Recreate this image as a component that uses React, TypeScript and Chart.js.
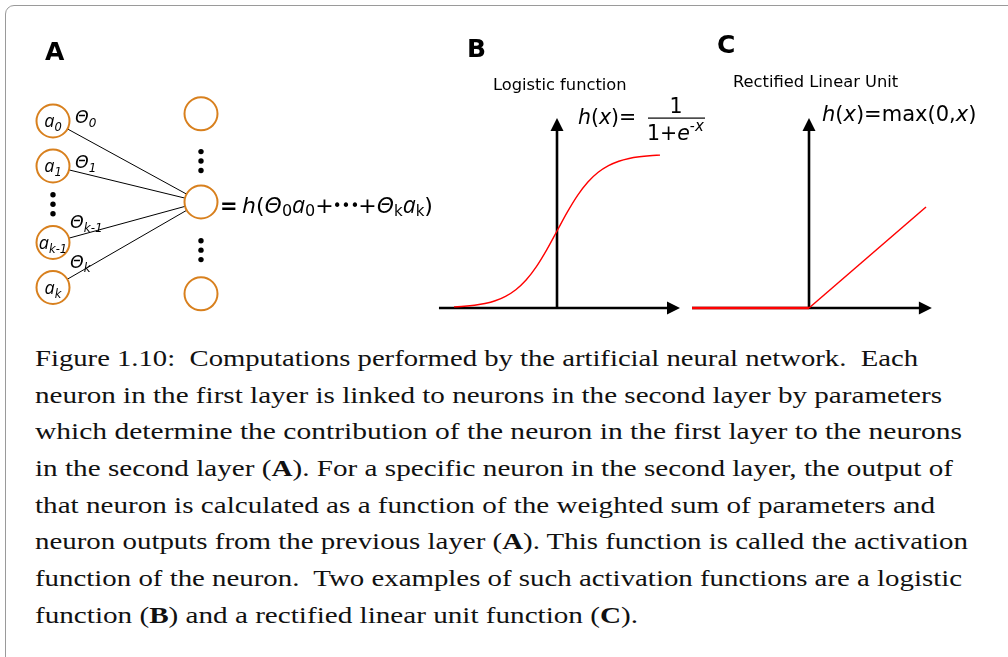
import React, { useEffect, useLayoutEffect, useRef } from "react";
import { Chart, registerables } from "chart.js";
Chart.register(...registerables);

// ---------------- data ----------------
// Panel A – network (x: layer index, y: slot position)
const inputSubscripts = ["0", "1", "k-1", "k"];
const thetaSubscripts = ["0", "1", "k-1", "k"];
const inputY = [0, 1, 2.7, 3.7];
const inputDotY = [1.64, 1.85, 2.06];
const outputY = [-0.16, 1.8, 3.84];
const outputDotY = [0.68, 0.89, 1.1, 2.66, 2.87, 3.08];
const linkedOutput = 1;

// Panel B – logistic curve
const logisticX = [-5, -4.5, -4, -3.5, -3, -2.5, -2, -1.5, -1, -0.5, 0, 0.5, 1, 1.5, 2, 2.5, 3, 3.5, 4, 4.5, 5];
const logisticY = [0.007, 0.011, 0.018, 0.029, 0.047, 0.076, 0.119, 0.182, 0.269, 0.378, 0.5, 0.622, 0.731, 0.818, 0.881, 0.924, 0.953, 0.971, 0.982, 0.989, 0.993];
const logisticAxisX = [-5.73, 5.97];
const logisticAxisTop = 1.234;

// Panel C – rectified linear unit
const reluX = [-1, 0, 1];
const reluY = [0, 0, 1];
const reluAxisX = [-1, 1.05];
const reluAxisTop = 1.88;

// Caption
const captionLines = [
  "Figure 1.10:  Computations performed by the artificial neural network.  Each",
  "neuron in the first layer is linked to neurons in the second layer by parameters",
  "which determine the contribution of the neuron in the first layer to the neurons",
  "in the second layer (**A**). For a specific neuron in the second layer, the output of",
  "that neuron is calculated as a function of the weighted sum of parameters and",
  "neuron outputs from the previous layer (**A**). This function is called the activation",
  "function of the neuron.  Two examples of such activation functions are a logistic",
  "function (**B**) and a rectified linear unit function (**C**).",
];

// ---------------- layout ----------------
const SANS = '"DejaVu Sans", Verdana, sans-serif';
const ITAL_A = '"Open Sans", "Noto Sans", "DejaVu Sans", sans-serif';
const SERIF = '"Liberation Serif", "Times New Roman", serif';
const ORANGE = "#d8801e";
const RED = "#ff0000";
const CAP_LEFT = 35;
const CAP_RIGHT = [918, 942, 962, 953, 935, 968, 962, 638];
const CAP_BASE0 = 367;
const CAP_STEP = 36.7;
const CAP_SIZE = 23;

type Box = { left: number; top: number; w: number; h: number; ox: number; oy: number; ux: number; uy: number };
const boxA: Box = { left: 0, top: 0, w: 460, h: 340, ox: 53, oy: 121, ux: 148, uy: 45 };
const boxB: Box = { left: 430, top: 20, w: 280, h: 310, ox: 557, oy: 308, ux: 20.6, uy: 154 };
const boxC: Box = { left: 680, top: 20, w: 320, h: 310, ox: 809, oy: 308, ux: 117, uy: 101 };

type Seg = { t: string; it?: boolean; b?: boolean; s: number; dy?: number; dx?: number; f?: string };
function drawRich(ctx: CanvasRenderingContext2D, x: number, y: number, segs: Seg[], measureOnly = false) {
  let cx = x;
  for (const g of segs) {
    ctx.font = `${g.it ? "italic " : ""}${g.b ? "bold " : ""}${g.s}px ${g.f || SANS}`;
    cx += g.dx || 0;
    if (!measureOnly) ctx.fillText(g.t, cx, y + (g.dy || 0));
    cx += ctx.measureText(g.t).width;
  }
  return cx - x;
}

function drawArrow(ctx: CanvasRenderingContext2D, x1: number, y1: number, x2: number, y2: number) {
  const ang = Math.atan2(y2 - y1, x2 - x1);
  const L = 13, Wd = 6.5;
  ctx.save();
  ctx.strokeStyle = "#000";
  ctx.fillStyle = "#000";
  ctx.lineWidth = 2.6;
  ctx.beginPath();
  ctx.moveTo(x1, y1);
  ctx.lineTo(x2 - (L - 2) * Math.cos(ang), y2 - (L - 2) * Math.sin(ang));
  ctx.stroke();
  const bx = x2 - L * Math.cos(ang), by = y2 - L * Math.sin(ang);
  ctx.beginPath();
  ctx.moveTo(x2, y2);
  ctx.lineTo(bx + Wd * Math.sin(ang), by - Wd * Math.cos(ang));
  ctx.lineTo(bx - Wd * Math.sin(ang), by + Wd * Math.cos(ang));
  ctx.closePath();
  ctx.fill();
  ctx.restore();
}

function scalesFor(b: Box, reverse: boolean) {
  const xmin = (b.left - b.ox) / b.ux;
  const xmax = (b.left + b.w - b.ox) / b.ux;
  let ymin, ymax;
  if (reverse) {
    ymin = (b.top - b.oy) / b.uy;
    ymax = (b.top + b.h - b.oy) / b.uy;
  } else {
    ymax = (b.oy - b.top) / b.uy;
    ymin = (b.oy - b.top - b.h) / b.uy;
  }
  return {
    x: { type: "linear", min: xmin, max: xmax, display: false },
    y: { type: "linear", min: ymin, max: ymax, display: false, reverse },
  };
}

function baseOptions(b: Box, reverse: boolean) {
  return {
    responsive: false,
    maintainAspectRatio: false,
    animation: false,
    events: [],
    layout: { padding: 0, autoPadding: false },
    plugins: { legend: { display: false }, tooltip: { enabled: false }, title: { display: false } },
    scales: scalesFor(b, reverse),
  };
}

// ---------- panel A ----------
function configA() {
  const px = (c: Chart, x: number, y: number) => [c.scales.x.getPixelForValue(x), c.scales.y.getPixelForValue(y)];
  const textPlugin = {
    id: "textA",
    afterDatasetsDraw(c: Chart) {
      const ctx = c.ctx;
      ctx.save();
      ctx.fillStyle = "#000";
      ctx.textBaseline = "alphabetic";
      ctx.font = `bold 25px ${SANS}`;
      ctx.fillText("A", 45 - boxA.left, 60 - boxA.top);
      // node labels
      inputY.forEach((y, i) => {
        const [cx, cy] = px(c, 0, y);
        const segs: Seg[] = [
          { t: "a", it: true, s: 18, f: ITAL_A },
          { t: inputSubscripts[i], it: true, s: 11.5, dy: 4 },
        ];
        const w = drawRich(ctx, 0, 0, segs, true);
        drawRich(ctx, cx - w / 2, cy + 6, segs);
        // theta labels
        const off = i < 2 ? [22, 2] : [17, -15 - (i - 2) * 5];
        drawRich(ctx, cx + off[0], cy + off[1], [
          { t: "Θ", it: true, s: 17.5 },
          { t: thetaSubscripts[i], it: true, s: 12, dy: 4 },
        ]);
      });
      // output formula
      const [mx, my] = px(c, 1, outputY[linkedOutput]);
      drawRich(ctx, mx + 19, my + 11, [
        { t: "=", b: true, s: 21 },
        { t: " ", s: 14 },
        { t: "h", it: true, s: 22 },
        { t: "(", s: 22 },
        { t: "Θ", it: true, s: 22 },
        { t: "0", s: 16, dy: 3 },
        { t: "a", it: true, s: 23, f: ITAL_A },
        { t: "0", s: 16, dy: 3 },
        { t: "+", s: 22 },
        { t: "•••", s: 15, dy: -2, dx: -1 },
        { t: "+", s: 22, dx: -1 },
        { t: "Θ", it: true, s: 22 },
        { t: "k", s: 15, dy: 3 },
        { t: "a", it: true, s: 23, f: ITAL_A },
        { t: "k", s: 15, dy: 3 },
        { t: ")", s: 22 },
      ]);
      ctx.restore();
    },
  };
  const nodeStyle = {
    showLine: false,
    pointRadius: 16.5,
    pointBorderWidth: 2,
    pointBorderColor: ORANGE,
    pointBackgroundColor: "#fff",
    pointStyle: "circle",
    order: 0,
  };
  const dotStyle = { showLine: false, pointRadius: 2.7, pointBorderWidth: 0, pointBackgroundColor: "#000", order: 0 };
  const links = inputY.map((y) => ({
    data: [
      { x: 0, y },
      { x: 1, y: outputY[linkedOutput] },
    ],
    showLine: true,
    borderColor: "#000",
    borderWidth: 1,
    pointRadius: 0,
    order: 2,
  }));
  return {
    type: "scatter",
    data: {
      datasets: [
        { data: inputY.map((y) => ({ x: 0, y })), ...nodeStyle },
        { data: outputY.map((y) => ({ x: 1, y })), ...nodeStyle },
        { data: inputDotY.map((y) => ({ x: 0, y })), ...dotStyle },
        { data: outputDotY.map((y) => ({ x: 1, y })), ...dotStyle },
        ...links,
      ],
    },
    options: baseOptions(boxA, true),
    plugins: [textPlugin],
  };
}

// ---------- panel B ----------
function configB() {
  const plugin = {
    id: "deco",
    beforeDatasetsDraw(c: Chart) {
      const ctx = c.ctx;
      const X = c.scales.x, Y = c.scales.y;
      drawArrow(ctx, X.getPixelForValue(logisticAxisX[0]), Y.getPixelForValue(0), X.getPixelForValue(logisticAxisX[1]), Y.getPixelForValue(0));
      drawArrow(ctx, X.getPixelForValue(0), Y.getPixelForValue(0), X.getPixelForValue(0), Y.getPixelForValue(logisticAxisTop));
    },
    afterDatasetsDraw(c: Chart) {
      const ctx = c.ctx;
      ctx.save();
      ctx.translate(-boxB.left, -boxB.top);
      ctx.fillStyle = "#000";
      ctx.font = `bold 25px ${SANS}`;
      ctx.fillText("B", 467, 57);
      ctx.font = `16.3px ${SANS}`;
      ctx.fillText("Logistic function", 493, 90);
      drawRich(ctx, 578, 124, [
        { t: "h", it: true, s: 20.5 },
        { t: "(", s: 20.5 },
        { t: "x", it: true, s: 20.5 },
        { t: ")=", s: 20.5 },
      ]);
      ctx.font = `20.5px ${SANS}`;
      ctx.textAlign = "center";
      ctx.fillText("1", 676, 113);
      ctx.textAlign = "left";
      ctx.fillRect(648, 117.5, 57, 1.2);
      drawRich(ctx, 647, 140, [
        { t: "1+", s: 20.5 },
        { t: "e", it: true, s: 20.5 },
        { t: "-", s: 14, dy: -9 },
        { t: "x", it: true, s: 15, dy: -9 },
      ]);
      ctx.restore();
    },
  };
  return {
    type: "scatter",
    data: {
      datasets: [
        {
          data: logisticX.map((x, i) => ({ x, y: logisticY[i] })),
          showLine: true,
          borderColor: RED,
          borderWidth: 1.4,
          pointRadius: 0,
          cubicInterpolationMode: "monotone",
        },
      ],
    },
    options: baseOptions(boxB, false),
    plugins: [plugin],
  };
}

// ---------- panel C ----------
function configC() {
  const plugin = {
    id: "decoC",
    beforeDatasetsDraw(c: Chart) {
      const ctx = c.ctx;
      const X = c.scales.x, Y = c.scales.y;
      drawArrow(ctx, X.getPixelForValue(reluAxisX[0]), Y.getPixelForValue(0), X.getPixelForValue(reluAxisX[1]), Y.getPixelForValue(0));
      drawArrow(ctx, X.getPixelForValue(0), Y.getPixelForValue(0), X.getPixelForValue(0), Y.getPixelForValue(reluAxisTop));
    },
    afterDatasetsDraw(c: Chart) {
      const ctx = c.ctx;
      ctx.save();
      ctx.translate(-boxC.left, -boxC.top);
      ctx.fillStyle = "#000";
      ctx.font = `bold 25px ${SANS}`;
      ctx.fillText("C", 717, 53);
      ctx.font = `16.3px ${SANS}`;
      ctx.fillText("Rectified Linear Unit", 733, 87);
      drawRich(ctx, 822, 121, [
        { t: "h", it: true, s: 21 },
        { t: "(", s: 21 },
        { t: "x", it: true, s: 21 },
        { t: ")=max(0,", s: 21 },
        { t: "x", it: true, s: 21 },
        { t: ")", s: 21 },
      ]);
      ctx.restore();
    },
  };
  return {
    type: "scatter",
    data: {
      datasets: [
        {
          data: reluX.map((x, i) => ({ x, y: reluY[i] })),
          showLine: true,
          borderColor: RED,
          borderWidth: 1.5,
          pointRadius: 0,
          segment: {
            borderWidth: (s: any) => (s.p0.parsed.y === s.p1.parsed.y ? 2.6 : 1.5),
          },
        },
      ],
    },
    options: baseOptions(boxC, false),
    plugins: [plugin],
  };
}

function ChartCanvas({ box, make }: { box: Box; make: () => any }) {
  const ref = useRef<HTMLCanvasElement | null>(null);
  useEffect(() => {
    if (!ref.current) return;
    let chart: Chart | null = new Chart(ref.current, make());
    const fonts = (document as any).fonts;
    if (fonts && fonts.ready) fonts.ready.then(() => chart && chart.update());
    return () => {
      chart && chart.destroy();
      chart = null;
    };
  }, []);
  return (
    <canvas
      ref={ref}
      width={box.w}
      height={box.h}
      style={{ position: "absolute", left: box.left, top: box.top, width: box.w, height: box.h }}
    />
  );
}

function CaptionLine({ text, idx }: { text: string; idx: number }) {
  const ref = useRef<HTMLDivElement | null>(null);
  useLayoutEffect(() => {
    const fit = () => {
      const el = ref.current;
      if (!el) return;
      el.style.transform = "none";
      const w = el.getBoundingClientRect().width;
      if (w > 0) el.style.transform = `scaleX(${(CAP_RIGHT[idx] - CAP_LEFT) / w})`;
    };
    fit();
    (document as any).fonts?.ready?.then(fit);
  }, []);
  const parts = text.split(/\*\*(.+?)\*\*/);
  const lineH = CAP_STEP;
  const asc = 0.891 * CAP_SIZE, content = 1.107 * CAP_SIZE;
  const top = CAP_BASE0 + idx * CAP_STEP - ((lineH - content) / 2 + asc);
  return (
    <div
      ref={ref}
      style={{
        position: "absolute",
        left: CAP_LEFT,
        top,
        whiteSpace: "pre",
        fontFamily: SERIF,
        fontSize: CAP_SIZE,
        lineHeight: `${lineH}px`,
        color: "#111",
        transformOrigin: "0 0",
      }}
    >
      {parts.map((p, i) => (i % 2 === 1 ? <b key={i}>{p}</b> : <span key={i}>{p}</span>))}
    </div>
  );
}

export default function App() {
  useEffect(() => {
    document.body.style.margin = "0";
  }, []);
  return (
    <div style={{ position: "absolute", left: 0, top: 0, width: 1008, height: 657, overflow: "hidden", background: "#fff" }}>
      <div
        style={{
          position: "absolute",
          left: 5,
          top: 5,
          width: 1012,
          height: 700,
          border: "1px solid #9a9a9a",
          borderRadius: 9,
          boxSizing: "border-box",
        }}
      />
      <ChartCanvas box={boxA} make={configA} />
      <ChartCanvas box={boxB} make={configB} />
      <ChartCanvas box={boxC} make={configC} />
      {captionLines.map((t, i) => (
        <CaptionLine key={i} text={t} idx={i} />
      ))}
    </div>
  );
}
